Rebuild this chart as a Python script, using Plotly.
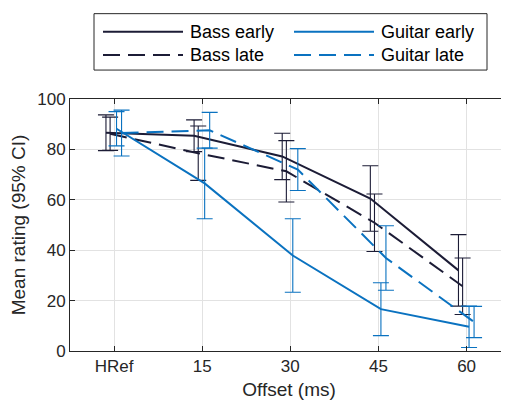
import plotly.graph_objects as go

# ---------------- data ----------------
categories = ["HRef", "15", "30", "45", "60"]

bass_early = [86.6, 85.4, 77.2, 60.5, 32.0]
bass_early_ci = [7.1, 6.3, 9.2, 13.0, 14.2]

bass_late = [86.2, 78.5, 71.3, 50.9, 25.7]
bass_late_ci = [6.6, 10.8, 12.2, 11.4, 11.2]

guitar_early = [88.2, 66.5, 37.9, 16.6, 9.6]
guitar_early_ci = [6.8, 14.0, 14.6, 10.5, 8.2]

guitar_late = [86.5, 87.6, 72.0, 36.9, 11.5]
guitar_late_ci = [9.1, 7.1, 8.3, 12.8, 6.2]

y_ticks = [0, 20, 40, 60, 80, 100]

# ---------------- style ----------------
DARK = "#1c1c36"
BLUE = "#0a72c0"
AX = "#262626"
FONT = "Liberation Sans, Arial, Helvetica, sans-serif"
DASH = "17px,8px"

# page body has an 8px margin -> figure origin sits at (8, 8) in the window
OFF = 8
PLOT_L, PLOT_R, PLOT_T, PLOT_B = 70, 508, 99, 351.5   # target window pixels
W, H = 509 - OFF, 400 - OFF
L, T = PLOT_L - OFF, PLOT_T - OFF
R = W - (PLOT_R - OFF)
B = H - (PLOT_B - OFF)
PW, PH = PLOT_R - PLOT_L, PLOT_B - PLOT_T

series = [
    ("Bass early", bass_early, bass_early_ci, DARK, "solid", -0.092),
    ("Bass late", bass_late, bass_late_ci, DARK, DASH, -0.045),
    ("Guitar early", guitar_early, guitar_early_ci, BLUE, "solid", 0.028),
    ("Guitar late", guitar_late, guitar_late_ci, BLUE, DASH, 0.085),
]

fig = go.Figure()
for name, vals, ci, color, dash, off in series:
    xs = [i + 1 + off for i in range(len(categories))]
    fig.add_trace(go.Scatter(
        x=xs, y=vals, name=name, mode="lines",
        line=dict(color=color, width=2, dash=dash),
        error_y=dict(type="data", array=ci, visible=True,
                     color=color, thickness=1.1, width=8),
        showlegend=False,
    ))

# ---------------- manual legend (MATLAB style) ----------------
def px(p):
    return (p - PLOT_L) / PW


def py(p):
    return (PLOT_B - p) / PH


shapes = [dict(type="rect", xref="paper", yref="paper",
               x0=px(94), x1=px(487), y0=py(70), y1=py(13.5),
               line=dict(color=AX, width=1), fillcolor="white", layer="above")]
annotations = []
legend_slots = [(103, 31.5), (103, 55), (294, 31.5), (294, 55)]
for (name, vals, ci, color, dash, off), (lx, ly) in zip(series, legend_slots):
    shapes.append(dict(type="line", xref="paper", yref="paper",
                       x0=px(lx), x1=px(lx + 80), y0=py(ly), y1=py(ly),
                       line=dict(color=color, width=2, dash=dash), layer="above"))
    annotations.append(dict(text=name, xref="paper", yref="paper",
                            x=px(lx + 85), y=py(ly), xanchor="left", yanchor="middle",
                            showarrow=False, font=dict(family=FONT, size=18, color="#000000")))

fig.update_layout(
    width=W, height=H,
    margin=dict(l=L, r=R, t=T, b=B, pad=0),
    paper_bgcolor="white", plot_bgcolor="white",
    font=dict(family=FONT, color=AX),
    shapes=shapes, annotations=annotations,
    showlegend=False,
)
fig.update_xaxes(
    range=[0.5, 5.47], tickvals=[1, 2, 3, 4, 5], ticktext=categories,
    showline=True, linecolor=AX, linewidth=1, mirror="ticks",
    ticks="inside", ticklen=5, tickcolor=AX,
    showgrid=True, gridcolor="#e2e2e2", gridwidth=1, zeroline=False,
    tickfont=dict(size=17, color=AX),
    title=dict(text="Offset (ms)", font=dict(size=19, color=AX), standoff=7),
    automargin=False,
)
fig.update_yaxes(
    range=[0, 100], tickvals=y_ticks,
    showline=True, linecolor=AX, linewidth=1, mirror="ticks",
    ticks="inside", ticklen=5, tickcolor=AX,
    showgrid=True, gridcolor="#e2e2e2", gridwidth=1, zeroline=False,
    tickfont=dict(size=17, color=AX),
    title=dict(text="Mean rating (95% CI)", font=dict(size=19, color=AX), standoff=8),
    automargin=False,
)

fig.write_html("out.html")
